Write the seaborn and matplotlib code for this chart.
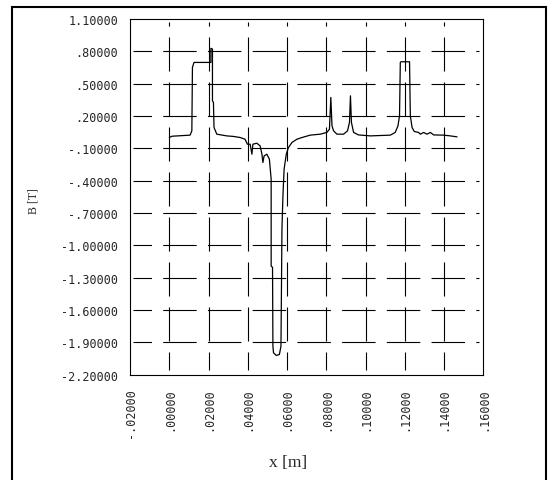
import pandas as pd
import matplotlib.pyplot as plt
import matplotlib.patches as mpatches
import seaborn as sns

# ----------------------------
# Data
# ----------------------------
x_m = [0.0000, 0.0014, 0.0106, 0.0115, 0.0118, 0.0126, 0.0212, 0.0212, 0.0220, 0.0220,
       0.0225, 0.0228, 0.0242, 0.0293, 0.0327, 0.0361, 0.0386, 0.0398, 0.0412, 0.0421,
       0.0426, 0.0446, 0.0463, 0.0472, 0.0477, 0.0483, 0.0497, 0.0510, 0.0519, 0.0519,
       0.0526, 0.0528, 0.0531, 0.0545, 0.0561, 0.0569, 0.0574, 0.0579, 0.0585, 0.0596,
       0.0607, 0.0625, 0.0650, 0.0676, 0.0718, 0.0769, 0.0803, 0.0816, 0.0823, 0.0829,
       0.0837, 0.0854, 0.0888, 0.0908, 0.0918, 0.0923, 0.0928, 0.0939, 0.0964, 0.1024,
       0.1126, 0.1151, 0.1165, 0.1173, 0.1177, 0.1180, 0.1224, 0.1228, 0.1237, 0.1248,
       0.1270, 0.1279, 0.1296, 0.1313, 0.1330, 0.1347, 0.1398, 0.1432, 0.1466]

b_t = [0.000, 0.012, 0.022, 0.062, 0.651, 0.697, 0.697, 0.828, 0.821, 0.340,
       0.326, 0.093, 0.031, 0.015, 0.010, 0.000, -0.016, -0.062, -0.062, -0.155,
       -0.062, -0.053, -0.078, -0.155, -0.232, -0.171, -0.155, -0.201, -0.387, -1.193,
       -1.205, -1.937, -1.998, -2.023, -2.014, -1.937, -0.852, -0.543, -0.294, -0.155,
       -0.093, -0.046, -0.016, 0.000, 0.022, 0.031, 0.047, 0.077, 0.372, 0.108,
       0.062, 0.031, 0.031, 0.062, 0.140, 0.387, 0.140, 0.047, 0.024, 0.015,
       0.022, 0.047, 0.108, 0.201, 0.697, 0.703, 0.703, 0.201, 0.093, 0.056,
       0.047, 0.031, 0.047, 0.031, 0.047, 0.024, 0.022, 0.015, 0.006]

x_ticks = [-0.02, 0.00, 0.02, 0.04, 0.06, 0.08, 0.10, 0.12, 0.14, 0.16]
x_tick_labels = ["-.02000", ".00000", ".02000", ".04000", ".06000",
                 ".08000", ".10000", ".12000", ".14000", ".16000"]

y_ticks = [1.1, 0.8, 0.5, 0.2, -0.1, -0.4, -0.7, -1.0, -1.3, -1.6, -1.9, -2.2]
y_tick_labels = ["1.10000", ".80000", ".50000", ".20000", "-.10000", "-.40000",
                 "-.70000", "-1.00000", "-1.30000", "-1.60000", "-1.90000", "-2.20000"]

df = pd.DataFrame({"x": x_m, "B": b_t})

# ----------------------------
# Style
# ----------------------------
sns.set_style("white")
plt.rcParams["lines.scale_dashes"] = False
plt.rcParams["font.family"] = ["DejaVu Sans Mono"]

fig = plt.figure(figsize=(5.5, 4.81), dpi=100)
ax = fig.add_axes([0.2364, 0.2193, 0.6424, 0.7391])

# broken grid (dashed lines, inset a little from the frame)
for yv in y_ticks[1:-1]:
    ax.axhline(yv, xmin=0.0085, xmax=0.989, color="black", lw=0.8,
               ls=(10.8, (24.1, 8.1)), zorder=1)
for xv in x_ticks[1:-1]:
    ax.axvline(xv, ymin=0.9916, ymax=0.0127, color="black", lw=0.8,
               ls=(21.6, (24.5, 7.9)), zorder=1)

sns.lineplot(data=df, x="x", y="B", sort=False, estimator=None,
             color="black", linewidth=0.9, ax=ax, zorder=3)

ax.set_xlim(-0.02, 0.16)
ax.set_ylim(-2.2, 1.1)
ax.set_xticks(x_ticks)
ax.set_xticklabels(x_tick_labels, rotation=90, fontsize=8.5)
ax.set_yticks(y_ticks)
ax.set_yticklabels(y_tick_labels, fontsize=8.5)
ax.tick_params(axis="x", length=0, pad=9)
ax.tick_params(axis="y", length=0, pad=8.6)

for sp in ax.spines.values():
    sp.set_color("black")
    sp.set_linewidth(0.8)

ax.set_xlabel("x [m]", fontfamily="Liberation Serif", fontsize=12.5)
ax.set_ylabel("B [T]", fontfamily="Liberation Serif", fontsize=8.5)
ax.xaxis.set_label_coords(0.447, -0.2236)
ax.yaxis.set_label_coords(-0.255, 0.491)

# outer frame around the figure
fig.patches.append(mpatches.Rectangle((0.0227, -0.1), 0.97, 1.0834,
                                      transform=fig.transFigure, fill=False,
                                      edgecolor="black", linewidth=1.5))

fig.savefig("out.png", dpi=100)
